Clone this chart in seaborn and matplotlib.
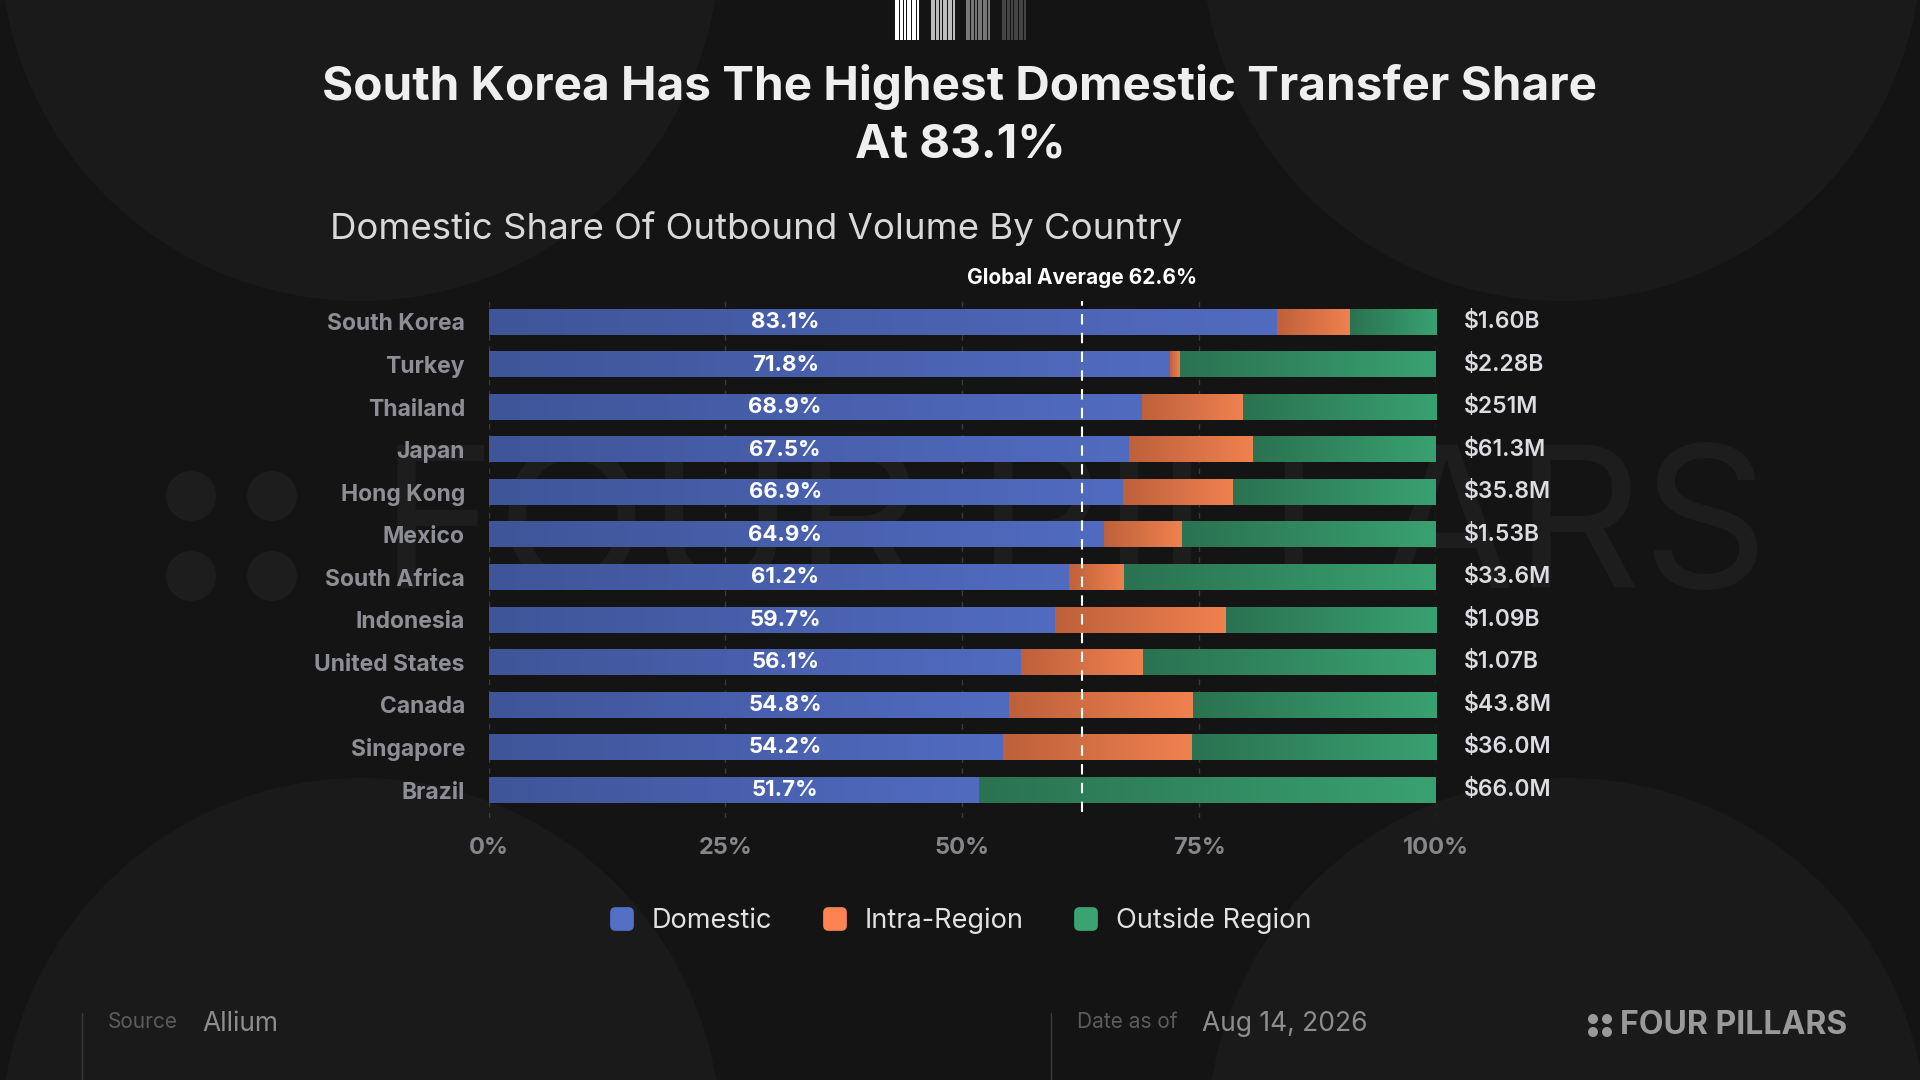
import numpy as np
import pandas as pd
import matplotlib.pyplot as plt
import seaborn as sns
from matplotlib.colors import LinearSegmentedColormap
from matplotlib.patches import Circle, Rectangle
from matplotlib.lines import Line2D
from matplotlib.markers import MarkerStyle
import matplotlib.transforms as mtransforms

# data
countries = ["South Korea", "Turkey", "Thailand", "Japan", "Hong Kong", "Mexico",
             "South Africa", "Indonesia", "United States", "Canada", "Singapore", "Brazil"]
domestic = [83.1, 71.8, 68.9, 67.5, 66.9, 64.9, 61.2, 59.7, 56.1, 54.8, 54.2, 51.7]
intra_region = [7.8, 1.1, 10.7, 13.1, 11.7, 8.3, 5.9, 18.1, 12.9, 19.5, 20.0, 0.0]
volumes = ["$1.60B", "$2.28B", "$251M", "$61.3M", "$35.8M", "$1.53B",
           "$33.6M", "$1.09B", "$1.07B", "$43.8M", "$36.0M", "$66.0M"]
global_avg = 62.6
x_ticks = [0, 25, 50, 75, 100]
legend_labels = ["Domestic", "Intra-Region", "Outside Region"]

df = pd.DataFrame({"country": countries, "domestic": domestic, "intra": intra_region})
df["dom_intra"] = df["domestic"] + df["intra"]
df["total"] = 100.0

BG = "#141414"
sns.set_theme(style="dark", rc={"axes.facecolor": "none", "figure.facecolor": BG})
plt.rcParams["font.family"] = ["Inter", "DejaVu Sans"]

fig = plt.figure(figsize=(19.2, 10.8), dpi=100, facecolor=BG)

# background decoration in pixel coordinates
bg = fig.add_axes([0, 0, 1, 1], zorder=0)
bg.set_xlim(0, 1920)
bg.set_ylim(1080, 0)
bg.axis("off")
for cx, cy in [(360, -59), (1562, -59), (361, 1138), (1567, 1138)]:
    bg.add_patch(Circle((cx, cy), 360, color="#1a1a1a", lw=0))

# watermark
wm = "#1d1d1d"
for cx, cy in [(191, 496), (272, 496), (191, 576), (272, 576)]:
    bg.add_patch(Circle((cx, cy), 25, color=wm, lw=0))
bg.text(380, 536, "FOUR PILLARS", fontsize=142, color=wm, ha="left", va="center")

# barcode at the top
bar_cols = ["#ffffff", "#bdbdbd", "#777777", "#444444"]
stripes = [(0, 4), (5, 3), (9, 1.5), (11.5, 4), (16.5, 2), (19, 1.5), (21.5, 2.5)]
for gx, c in zip([895, 931, 966, 1002], bar_cols):
    for off, w in stripes:
        bg.add_patch(Rectangle((gx + off, 0), w, 40, color=c, lw=0))

# footer
bg.plot([82, 82], [1013, 1080], color="#3a3a3a", lw=1)
bg.plot([1051, 1051], [1013, 1080], color="#3a3a3a", lw=1)
bg.text(108, 1022, "Source", fontsize=15, color="#5c5c5c", va="center")
bg.text(202, 1024, "Allium", fontsize=19, color="#8e8e8e", va="center")
bg.text(1077, 1022, "Date as of", fontsize=15, color="#5c5c5c", va="center")
bg.text(1202, 1024, "Aug 14, 2026", fontsize=19, color="#8e8e8e", va="center")
for cx, cy in [(1593, 1019), (1607, 1019), (1593, 1032), (1607, 1032)]:
    bg.add_patch(Circle((cx, cy), 5, color="#9a9a9a", lw=0))
bg.text(1847, 1026, "FOUR PILLARS", fontsize=23, fontweight="bold",
        color="#9a9a9a", ha="right", va="center")

# titles
fig.text(0.5, 1 - 87 / 1080, "South Korea Has The Highest Domestic Transfer Share",
         ha="center", va="center", fontsize=34.3, fontweight="bold", color="#efefef")
fig.text(0.5, 1 - 146 / 1080, "At 83.1%",
         ha="center", va="center", fontsize=34.3, fontweight="bold", color="#efefef")
fig.text(330 / 1920, 1 - 229 / 1080, "Domestic Share Of Outbound Volume By Country",
         ha="left", va="center", fontsize=26.3, color="#d9d9d9")

# main chart
ax = fig.add_axes([488.6 / 1920, 1 - 817.7 / 1080, (1436 - 488.6) / 1920, 517 / 1080], zorder=1)
ax.set_facecolor("none")

grad = np.linspace(0, 1, 256).reshape(1, -1)
layers = [
    ("total", df["dom_intra"].values, ["#2a7251", "#39a171"], "#33916a"),
    ("dom_intra", df["domestic"].values, ["#bd603b", "#f0814f"], "#dc7246"),
    ("domestic", np.zeros(len(df)), ["#3f5599", "#516bc0"], "#4a62b0"),
]
for col, starts, cols, solid in layers:
    sns.barplot(data=df, x=col, y="country", orient="h", color=solid,
                saturation=1, width=0.6, ax=ax, zorder=1, linewidth=0, edgecolor="none")
    cmap = LinearSegmentedColormap.from_list(col, cols)
    for patch, s in zip(ax.containers[-1], starts):
        y, h, end = patch.get_y(), patch.get_height(), patch.get_width()
        if end - s < 0.05:
            continue
        ax.imshow(grad, extent=[s, end, y + h, y], cmap=cmap, aspect="auto",
                  interpolation="bicubic", zorder=2)

ax.set_xlim(0, 100)
ax.set_ylim(11.65, -0.5)
ax.set_xlabel("")
ax.set_ylabel("")
for sp in ax.spines.values():
    sp.set_visible(False)

ax.set_xticks(x_ticks)
ax.set_xticklabels([f"{t}%" for t in x_ticks])
ax.xaxis.grid(True, color="#3a3a3a", linestyle=(0, (4, 4)), lw=1)
ax.yaxis.grid(False)
ax.set_axisbelow(True)
ax.tick_params(axis="x", length=0, labelcolor="#86868c", labelsize=17, pad=14)
ax.tick_params(axis="y", length=0, labelcolor="#8e8e96", labelsize=16.5, pad=17)
for lbl in ax.get_xticklabels() + ax.get_yticklabels():
    lbl.set_fontweight("bold")

# global average line
ax.axvline(global_avg, ymin=0.011, ymax=1, color="white", lw=1.5,
           linestyle=(0, (5, 4)), zorder=3)
trans = mtransforms.blended_transform_factory(ax.transData, ax.transAxes)
ax.text(global_avg, 1.044, f"Global Average {global_avg}%", transform=trans,
        ha="center", va="center", fontsize=15, fontweight="bold", color="white", clip_on=False)

# labels inside and outside bars
trans_r = mtransforms.blended_transform_factory(ax.transAxes, ax.transData)
for i, (d, v) in enumerate(zip(domestic, volumes)):
    ax.text(global_avg / 2, i, f"{d:.1f}%", ha="center", va="center", fontsize=16,
            fontweight="bold", color="white", zorder=4)
    ax.text(1.0296, i, v, transform=trans_r, ha="left", va="center", fontsize=16.5,
            fontweight="semibold", color="#dcdce2", clip_on=False)

# legend
legend_colors = ["#5470c6", "#fc8452", "#3ba272"]
handles = [Line2D([], [], marker=MarkerStyle("s", joinstyle="round"), linestyle="none",
                  markersize=10, markerfacecolor=c, markeredgecolor=c, markeredgewidth=7)
           for c in legend_colors]
fig.legend(handles, legend_labels, loc="center", bbox_to_anchor=(0.5, 1 - 921 / 1080),
           ncol=3, frameon=False, fontsize=19.5, labelcolor="#e2e2e2",
           handletextpad=0.6, columnspacing=1.8, handlelength=1.0)

fig.savefig("out.png", dpi=100, facecolor=BG)
